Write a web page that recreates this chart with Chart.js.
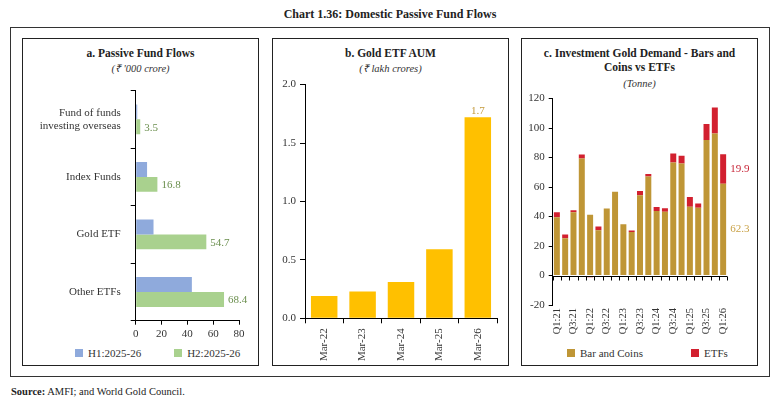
<!DOCTYPE html>
<html>
<head>
<meta charset="utf-8">
<script src="https://cdn.jsdelivr.net/npm/chart.js@4.4.1/dist/chart.umd.min.js"></script>
<style>
body{margin:0;background:#fff;font-family:"Liberation Serif",serif;color:#222}
#page{position:relative;width:780px;height:406px;overflow:hidden}
.outer{position:absolute;left:10px;top:27px;width:760px;height:350px;border:1.5px solid #333;box-sizing:border-box}
.panel{position:absolute;top:38px;height:328px;border:1.2px solid #222;box-sizing:border-box}
.title{position:absolute;left:0;width:780px;top:6px;text-align:center;font-size:12px;font-weight:bold;line-height:16px;color:#222}
.ptitle{position:absolute;text-align:center;font-size:11.5px;font-weight:bold;line-height:14px;color:#222}
.psub{position:absolute;text-align:center;font-size:10.5px;font-style:italic;line-height:13px;color:#333}
canvas{position:absolute}
.legend{position:absolute;display:flex;font-size:11px;line-height:12px;color:#333}
.legend span.item{display:flex;align-items:center;white-space:nowrap}
.legend i{display:inline-block;width:8px;height:8px;margin-right:5px}
.source{position:absolute;left:11px;top:386px;font-size:10.5px;color:#222}
</style>
</head>
<body>
<div id="page">
  <div class="title">Chart 1.36: Domestic Passive Fund Flows</div>
  <div class="outer"></div>

  <div class="panel" style="left:22px;width:237px"></div>
  <div class="panel" style="left:272px;width:237px"></div>
  <div class="panel" style="left:521px;width:237px"></div>

  <div class="ptitle" style="left:22px;width:237px;top:46px">a. Passive Fund Flows</div>
  <div class="psub" style="left:22px;width:237px;top:62px">(₹ '000 crore)</div>
  <canvas id="chartA" width="235" height="270" style="left:23px;top:74px"></canvas>
  <div class="legend" id="legendA" style="left:75px;top:347px;gap:33px"></div>

  <div class="ptitle" style="left:272px;width:237px;top:46px">b. Gold ETF AUM</div>
  <div class="psub" style="left:272px;width:237px;top:62px">(₹ lakh crores)</div>
  <canvas id="chartB" width="235" height="291" style="left:273px;top:74px"></canvas>

  <div class="ptitle" style="left:521px;width:237px;top:46px">c. Investment Gold Demand - Bars and<br>Coins vs ETFs</div>
  <div class="psub" style="left:521px;width:237px;top:77px">(Tonne)</div>
  <canvas id="chartC" width="236" height="252" style="left:522px;top:88px"></canvas>
  <div class="legend" id="legendC" style="left:567px;top:347px;gap:48px"></div>

  <div class="source"><b>Source:</b> AMFI; and World Gold Council.</div>
</div>

<script>
// panel a
const fundTypes = [["Fund of funds", "investing overseas"], "Index Funds", "Gold ETF", "Other ETFs"];
const h1Flows = [1.2, 8.8, 13.8, 43.5];
const h2Flows = [3.5, 16.8, 54.7, 68.4];
const flowTicks = [0, 20, 40, 60, 80];

// panel b
const aumDates = ["Mar-22", "Mar-23", "Mar-24", "Mar-25", "Mar-26"];
const goldEtfAum = [0.19, 0.23, 0.31, 0.59, 1.72];
const aumTicks = [0, 0.5, 1.0, 1.5, 2.0];

// panel c
const quarters = ["Q1:21","Q2:21","Q3:21","Q4:21","Q1:22","Q2:22","Q3:22","Q4:22",
                  "Q1:23","Q2:23","Q3:23","Q4:23","Q1:24","Q2:24","Q3:24","Q4:24",
                  "Q1:25","Q2:25","Q3:25","Q4:25","Q1:26"];
const barAndCoins = [39.5, 25.3, 42.9, 79.3, 41.3, 30.7, 45.5, 56.9, 34.7, 29.6, 54.4,
                     67.1, 43.8, 43.3, 76.7, 76.0, 46.7, 46.0, 92.0, 96.4, 62.3];
const etfDemand = [3.4, 2.5, 1.3, 2.7, -1.2, 2.6, -0.4, -0.6, -0.6, 0.9, 2.9,
                   1.8, 2.6, 2.3, 6.0, 5.3, 6.6, 2.9, 10.7, 17.6, 19.9];
const demandTicks = [-20, 0, 20, 40, 60, 80, 100, 120];

Chart.defaults.font.family = '"Liberation Serif", serif';
Chart.defaults.font.size = 11;
Chart.defaults.color = '#333';

// draws value labels next to chosen bars
function valueLabels(items) {
  return {
    id: 'valueLabels',
    afterDatasetsDraw(chart) {
      const ctx = chart.ctx;
      ctx.save();
      ctx.font = '11px "Liberation Serif", serif';
      items.forEach(it => {
        const el = chart.getDatasetMeta(it.ds).data[it.i];
        const txt = chart.data.datasets[it.ds].data[it.i].toFixed(1);
        ctx.fillStyle = it.color;
        if (it.at === 'end') {
          ctx.textAlign = 'left'; ctx.textBaseline = 'middle';
          ctx.fillText(txt, el.x + 4, el.y + 1);
        } else if (it.at === 'top') {
          ctx.textAlign = 'center'; ctx.textBaseline = 'bottom';
          ctx.fillText(txt, el.x, el.y - 1);
        } else {
          ctx.textAlign = 'left'; ctx.textBaseline = 'middle';
          ctx.fillText(txt, el.x + el.width / 2 + 4, (el.y + el.base) / 2);
        }
      });
      ctx.restore();
    }
  };
}

function htmlLegend(chart, id) {
  const box = document.getElementById(id);
  chart.data.datasets.forEach(ds => {
    const item = document.createElement('span');
    item.className = 'item';
    const sw = document.createElement('i');
    sw.style.background = ds.backgroundColor;
    item.appendChild(sw);
    item.appendChild(document.createTextNode(ds.label));
    box.appendChild(item);
  });
}

const axisGrid = { display: true, drawOnChartArea: false, color: '#000', tickColor: '#000', tickLength: 5 };
const axisBorder = { display: true, color: '#000', width: 1 };

// a. Passive Fund Flows
const chartA = new Chart(document.getElementById('chartA'), {
  type: 'bar',
  data: {
    labels: fundTypes,
    datasets: [
      { label: 'H1:2025-26', data: h1Flows, backgroundColor: '#8FAADC' },
      { label: 'H2:2025-26', data: h2Flows, backgroundColor: '#A9D18E' }
    ]
  },
  options: {
    indexAxis: 'y',
    responsive: false,
    animation: false,
    layout: { padding: { top: 5, right: 19, left: 0, bottom: 0 } },
    datasets: { bar: { categoryPercentage: 0.52, barPercentage: 1 } },
    plugins: { legend: { display: false }, tooltip: { enabled: false } },
    scales: {
      x: {
        min: 0, max: 80,
        afterBuildTicks: s => { s.ticks = flowTicks.map(v => ({ value: v })); },
        grid: { ...axisGrid, tickLength: 4 },
        border: axisBorder,
        ticks: { padding: 3, color: '#333' },
        afterFit: s => { s.height = 23.3; }
      },
      y: {
        grid: { ...axisGrid, offset: true },
        border: axisBorder,
        ticks: { padding: 10, color: '#333' },
        afterFit: s => { s.width = 112.7; }
      }
    }
  },
  plugins: [valueLabels(h2Flows.map((v, i) => ({ ds: 1, i, at: 'end', color: '#6B8F4E' })))]
});
htmlLegend(chartA, 'legendA');

// b. Gold ETF AUM
new Chart(document.getElementById('chartB'), {
  type: 'bar',
  data: {
    labels: aumDates,
    datasets: [{ label: 'Gold ETF AUM', data: goldEtfAum, backgroundColor: '#FFC000' }]
  },
  options: {
    responsive: false,
    animation: false,
    layout: { padding: { top: 8, right: 11, left: 0, bottom: 0 } },
    datasets: { bar: { categoryPercentage: 1, barPercentage: 0.69 } },
    plugins: { legend: { display: false }, tooltip: { enabled: false } },
    scales: {
      x: {
        grid: { ...axisGrid, offset: true },
        border: axisBorder,
        ticks: { maxRotation: 90, minRotation: 90, padding: 5, color: '#333' },
        afterFit: s => { s.height = 46.7; }
      },
      y: {
        min: 0, max: 2,
        afterBuildTicks: s => { s.ticks = aumTicks.map(v => ({ value: v })); },
        grid: axisGrid,
        border: axisBorder,
        ticks: { padding: 4, color: '#333', callback: v => v.toFixed(1) },
        afterFit: s => { s.width = 32; }
      }
    }
  },
  plugins: [valueLabels([{ ds: 0, i: goldEtfAum.length - 1, at: 'top', color: '#C49A3C' }])]
});

// zero line with category tick marks for panel c
const zeroAxis = {
  id: 'zeroAxis',
  afterDatasetsDraw(chart) {
    const { ctx, chartArea, scales: { x, y } } = chart;
    const y0 = Math.round(y.getPixelForValue(0)) + 0.5;
    ctx.save();
    ctx.strokeStyle = '#000';
    ctx.lineWidth = 1;
    ctx.beginPath();
    ctx.moveTo(chartArea.left, y0);
    ctx.lineTo(chartArea.right, y0);
    for (let i = 0; i <= quarters.length; i++) {
      const px = Math.round(x.getPixelForValue(i - 0.5)) + 0.5;
      ctx.moveTo(px, y0);
      ctx.lineTo(px, y0 + 4);
    }
    ctx.stroke();
    ctx.restore();
  }
};

// c. Investment Gold Demand
const chartC = new Chart(document.getElementById('chartC'), {
  type: 'bar',
  data: {
    labels: quarters,
    datasets: [
      { label: 'Bar and Coins', data: barAndCoins, backgroundColor: '#BF9636' },
      { label: 'ETFs', data: etfDemand, backgroundColor: '#D2202F' }
    ]
  },
  options: {
    responsive: false,
    animation: false,
    layout: { padding: { top: 7, right: 30.7, left: 0, bottom: 0 } },
    datasets: { bar: { categoryPercentage: 1, barPercentage: 0.72 } },
    plugins: { legend: { display: false }, tooltip: { enabled: false } },
    scales: {
      x: {
        stacked: true,
        grid: { display: false, drawTicks: false, tickLength: 0 },
        border: { display: false },
        ticks: {
          autoSkip: false, maxRotation: 90, minRotation: 90, padding: 3, color: '#333',
          font: { size: 10.5 },
          callback: (v, i) => (i % 2 === 0 ? quarters[i] : '')
        },
        afterFit: s => { s.height = 35; }
      },
      y: {
        stacked: true,
        min: -20, max: 120,
        afterBuildTicks: s => { s.ticks = demandTicks.map(v => ({ value: v })); },
        grid: { ...axisGrid, tickLength: 4 },
        border: axisBorder,
        ticks: { autoSkip: false, padding: 4, color: '#333' },
        afterFit: s => { s.width = 30.7; }
      }
    }
  },
  plugins: [zeroAxis, valueLabels([
    { ds: 1, i: quarters.length - 1, at: 'side', color: '#C8283A' },
    { ds: 0, i: quarters.length - 1, at: 'side', color: '#C9A146' }
  ])]
});
htmlLegend(chartC, 'legendC');
</script>
</body>
</html>
